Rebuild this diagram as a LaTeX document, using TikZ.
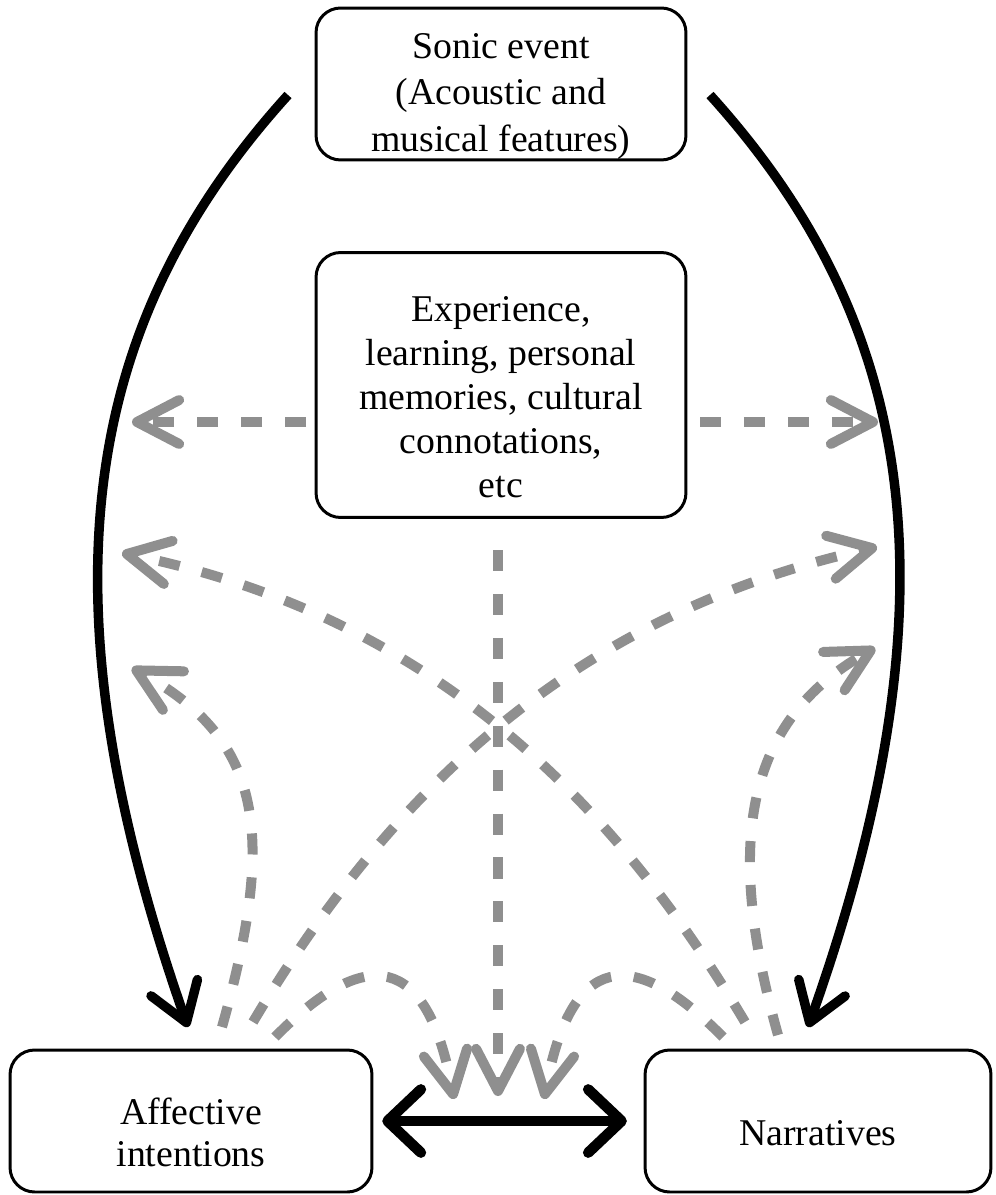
\documentclass[tikz,border=0pt]{standalone}
\usepackage{fontspec}
\setmainfont{Liberation Serif}
\usetikzlibrary{positioning, calc, arrows.meta}
\definecolor{arrgray}{gray}{0.56}

\begin{document}
\begin{tikzpicture}[x=0.02cm, y=-0.02cm,
    box/.style={draw, line width=1.7pt, rounded corners=14pt, align=center, inner sep=0pt,
        font=\fontsize{21.5}{25}\selectfont},
    blkarrow/.style={line width=5.4pt, -{Straight Barb[length=21pt, width=28pt, round]}},
    dblarrow/.style={line width=6pt,
        {Straight Barb[length=19pt, width=36pt, round]}-{Straight Barb[length=19pt, width=36pt, round]}},
    grayarrow/.style={draw=arrgray, line width=5.7pt, dash pattern=on 12pt off 13pt,
        -{Straight Barb[length=24pt, width=25pt, round]}}]
    \useasboundingbox (0,0) rectangle (995,1195);

    % ノードの配置
    \node[box, minimum width=7.4cm, minimum height=3.04cm,
        font=\fontsize{21.5}{26.5}\selectfont] (sonic) at (501,84)
        {\rule{0pt}{28pt}Sonic event\\(Acoustic and\\musical features)};
    \node[box, minimum width=7.4cm, minimum height=5.3cm] (exper) at (501,385)
        {\rule{0pt}{28pt}Experience,\\learning, personal\\memories, cultural\\connotations,\\etc};
    \node[box, minimum width=7.24cm, minimum height=2.84cm,
        font=\fontsize{21.5}{24}\selectfont] (affect) at (191,1121)
        {\rule{0pt}{28pt}Affective\\intentions};
    \node[box, minimum width=6.92cm, minimum height=2.84cm] (narr) at (818,1121)
        {\rule{0pt}{28pt}Narratives};

    % 矢印の端点
    \coordinate (sonicL) at (288,95);
    \coordinate (sonicR) at (710,95);
    \coordinate (affectT) at (188,1027);
    \coordinate (narrT) at (808,1027);
    \coordinate (experL) at (306,422);
    \coordinate (experR) at (700,422);
    \coordinate (experB) at (498,550);
    \coordinate (tipL1) at (132,422);
    \coordinate (tipR1) at (878,422);
    \coordinate (tipL2) at (122,553);
    \coordinate (tipR2) at (877,547);
    \coordinate (tipL3) at (132,668);
    \coordinate (tipR3) at (875,648);
    \coordinate (tipB1) at (454,1099);
    \coordinate (tipB2) at (498,1096);
    \coordinate (tipB3) at (544,1099);
    \coordinate (affect1) at (222,1027);
    \coordinate (affect2) at (253,1022);
    \coordinate (affect3) at (275,1037);
    \coordinate (narr1) at (778,1035);
    \coordinate (narr2) at (745,1022);
    \coordinate (narr3) at (723,1037);

    % 黒い矢印
    \draw[blkarrow] (sonicL) .. controls (87,317) and (33,585) .. (affectT);
    \draw[blkarrow] (sonicR) .. controls (911,317) and (965,585) .. (narrT);
    \draw[dblarrow, shorten <=5pt, shorten >=9.5pt] (affect.east) -- (narr.west);

    % 灰色の点線矢印
    \draw[grayarrow] (experL) -- (tipL1);
    \draw[grayarrow] (experR) -- (tipR1);
    \draw[grayarrow] (experB) -- (tipB2);
    \draw[grayarrow] (affect1) .. controls (276,835) and (264,740) .. (tipL3);
    \draw[grayarrow] (narr1) .. controls (724,843) and (745,721) .. (tipR3);
    \draw[grayarrow] (narr2) .. controls (617,807) and (436,617) .. (tipL2);
    \draw[grayarrow] (affect2) .. controls (381,807) and (562,617) .. (tipR2);
    \draw[grayarrow] (affect3) .. controls (366,945) and (427,952) .. (tipB1);
    \draw[grayarrow] (narr3) .. controls (632,945) and (571,952) .. (tipB3);
\end{tikzpicture}
\end{document}
